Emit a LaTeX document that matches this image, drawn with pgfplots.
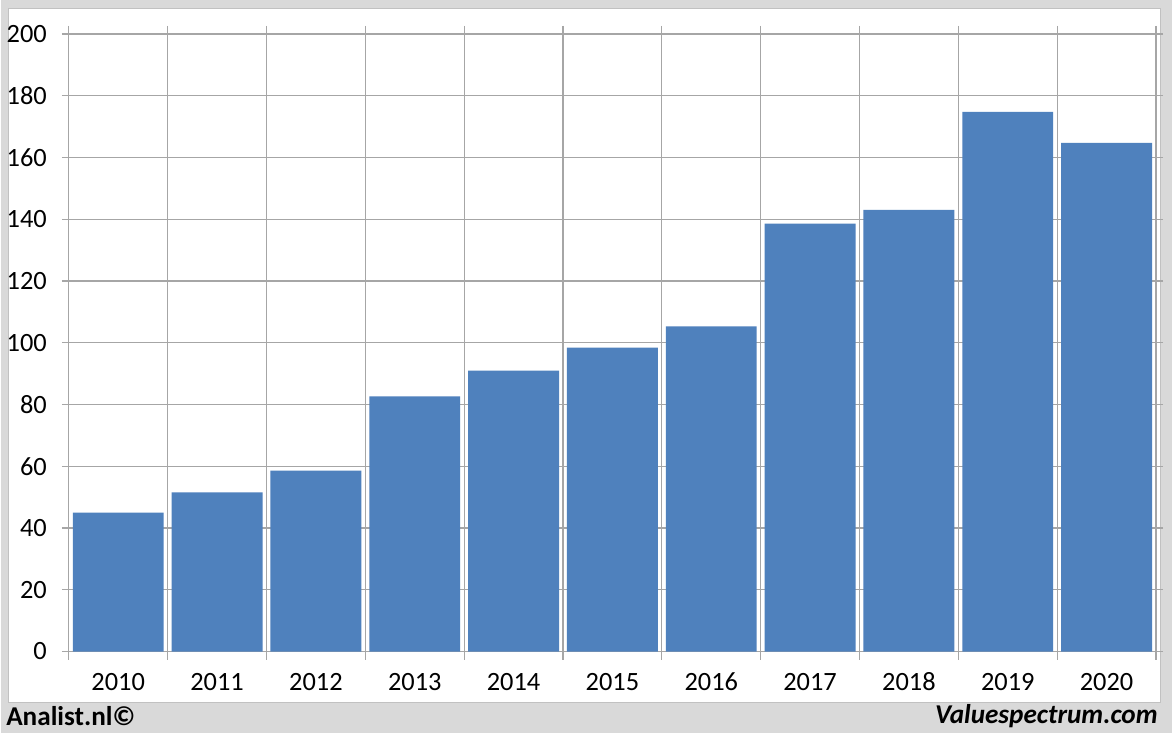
\documentclass[border=0pt]{standalone}
\usepackage{pgfplots}
\pgfplotsset{compat=1.18}
\usepackage{fontspec}
\setmainfont{Carlito}
\definecolor{bg}{HTML}{D9D9D9}
\definecolor{barc}{HTML}{4F81BD}
\definecolor{gridc}{HTML}{A6A6A6}
\begin{document}
\begin{tikzpicture}[x=0.5pt,y=0.5pt]
\fill[bg] (0,0) rectangle (1172,734);
\filldraw[fill=white,draw=gridc!70] (8,31) rectangle (1160,726);
\begin{axis}[
  at={(34pt,41pt)}, anchor=south west,
  scale only axis, width=544pt, height=309pt,
  xmin=-0.5, xmax=10.5, ymin=0, ymax=200,
  ytick={0,20,...,200},
  xtick={0,...,10},
  xticklabels={2010,2011,2012,2013,2014,2015,2016,2017,2018,2019,2020},
  minor xtick={-0.5,0.5,...,10.5},
  xminorgrids=true, ymajorgrids=true,
  grid style={draw=gridc, line width=0.6pt},
  minor grid style={draw=gridc, line width=0.6pt},
  axis line style={draw=gridc, line width=0.6pt},
  tick align=outside,
  major x tick style={draw=none},
  minor x tick style={draw=gridc, line width=0.6pt},
  y tick style={draw=gridc, line width=0.6pt},
  major tick length=3.5pt, minor tick length=4pt,
  /pgf/number format/assume math mode=true,
  tick label style={font=\fontsize{13.2}{15}\selectfont},
  yticklabel style={xshift=-4pt},
  xticklabel style={yshift=-5pt, text height=1.6ex, text depth=0.3ex},
]
\addplot[ybar, bar width=0.92, fill=barc, draw=none] coordinates {
(0,45) (1,51.5) (2,58.6) (3,82.6) (4,91) (5,98.4) (6,105.3) (7,138.6) (8,143) (9,174.8) (10,164.7)};
\end{axis}
\node[anchor=west,inner sep=0pt,font=\fontsize{13.6}{15}\selectfont\bfseries] at (5,17) {Analist.nl©};
\node[anchor=east,inner sep=0pt,font=\fontsize{13.6}{15}\selectfont\bfseries\itshape] at (1158,17) {Valuespectrum.com};
\end{tikzpicture}
\end{document}
